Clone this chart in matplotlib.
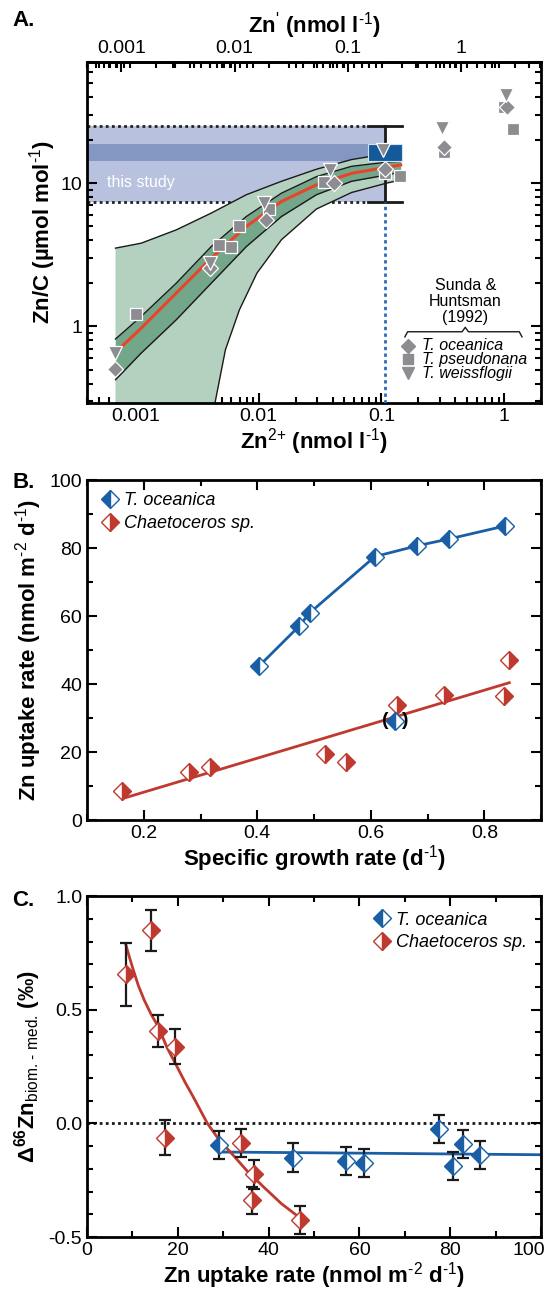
import numpy as np
import matplotlib
matplotlib.use("Agg")
import matplotlib.pyplot as plt
import matplotlib.transforms as mtransforms
from matplotlib.patches import Rectangle
from matplotlib.ticker import FixedLocator, LogLocator, NullFormatter, MultipleLocator

plt.rcParams['font.family'] = ['Liberation Sans', 'DejaVu Sans']
plt.rcParams['mathtext.fontset'] = 'custom'
plt.rcParams['mathtext.rm'] = 'Liberation Sans'
plt.rcParams['mathtext.bf'] = 'Liberation Sans:bold'
plt.rcParams['mathtext.it'] = 'Liberation Sans:italic'

# ---- A: Zn/C vs Zn2+ (Sunda & Huntsman 1992 + this study) ----
sh_ocean_zn = [0.000674, 0.00404, 0.0114, 0.0408, 0.107, 0.323, 1.06]
sh_ocean_znc = [0.504, 2.55, 5.55, 10.0, 12.6, 18.0, 33.9]
sh_pseudo_zn = [0.00101, 0.00473, 0.0059, 0.00687, 0.0121, 0.0343, 0.107, 0.142, 0.323, 1.0, 1.18]
sh_pseudo_znc = [1.22, 3.72, 3.61, 5.04, 6.55, 10.2, 11.7, 11.3, 16.6, 33.9, 23.8]
sh_weiss_zn = [0.000674, 0.00398, 0.011, 0.0384, 0.104, 0.312, 1.03]
sh_weiss_znc = [0.652, 2.77, 7.26, 12.4, 17.1, 24.2, 41.3]

# fit and confidence envelopes
fit_zn = [0.000682, 0.001104, 0.002133, 0.004111, 0.00794, 0.01535, 0.02958, 0.05715, 0.1104, 0.1436]
outer_hi = [3.52, 3.81, 4.72, 6.18, 8.30, 10.3, 12.5, 14.6, 16.0, 16.4]
inner_hi = [0.817, 1.175, 2.005, 3.61, 5.85, 8.51, 11.1, 13.1, 14.0, 14.2]
inner_lo = [0.425, 0.652, 1.114, 2.005, 3.61, 5.85, 8.30, 10.3, 11.4, 11.9]
red_fit_zn = [0.000743, 0.001104, 0.002133, 0.004111, 0.00794, 0.01535, 0.02958, 0.05715, 0.1104, 0.1436]
red_fit_znc = [0.706, 0.973, 1.71, 3.00, 4.99, 7.45, 9.73, 11.7, 12.9, 13.4]
outer_lo_zn = [0.00440, 0.00536, 0.00697, 0.00968, 0.01535, 0.02958, 0.05715, 0.1104, 0.1436]
outer_lo = [0.29, 0.687, 1.306, 2.355, 4.03, 6.60, 8.60, 10.0, 10.5]

study_zn2 = 0.107
study_box_zn = [0.0784, 0.1466]
study_range = [7.33, 24.9]
study_core = [14.3, 18.8]

# ---- B / C: uptake, growth and isotope fractionation ----
growth_to = [0.403, 0.474, 0.492, 0.607, 0.682, 0.738, 0.836]
uptake_to = [45.3, 57.1, 60.9, 77.5, 80.7, 82.7, 86.5]
d66_to = [-0.151, -0.165, -0.174, -0.024, -0.189, -0.092, -0.138]
d66_to_err = [0.064, 0.061, 0.062, 0.062, 0.062, 0.062, 0.062]
growth_to_out = 0.643
uptake_to_out = 29.0
d66_to_out = -0.094
d66_to_out_err = 0.061

growth_ch = [0.162, 0.280, 0.316, 0.520, 0.557, 0.647, 0.729, 0.834, 0.844]
uptake_ch = [8.5, 14.0, 15.6, 19.4, 17.1, 33.9, 36.7, 36.4, 47.0]
d66_ch = [0.655, 0.850, 0.407, 0.337, -0.063, -0.086, -0.224, -0.339, -0.424]
d66_ch_err = [0.14, 0.09, 0.07, 0.077, 0.078, 0.063, 0.063, 0.058, 0.062]

ch_lin_growth = [0.162, 0.844]
ch_lin_uptake = [6.3, 40.4]

ch_curve_uptake = [8.5, 9.3, 10.2, 11.3, 12.6, 14.1, 15.7, 17.6, 19.6, 21.5, 23.4,
                   26.5, 29.0, 31.2, 33.2, 35.1, 38.9, 42.8, 47.1]
ch_curve_d66 = [0.789, 0.733, 0.674, 0.606, 0.542, 0.480, 0.425, 0.334, 0.258, 0.184, 0.116,
                0.0, -0.070, -0.118, -0.163, -0.206, -0.280, -0.353, -0.419]
to_line_uptake = [29.0, 60.0, 100.0]
to_line_d66 = [-0.126, -0.131, -0.138]

GREY = '#8c8c91'
BLUE = '#1a5fa6'
RED = '#c0392f'
TICK_FS = 14
LAB_FS = 16
SUP1 = r'$^{\text{-1}}$'
SUP2 = r'$^{\text{-2}}$'


def style_axes(ax):
    for s in ax.spines.values():
        s.set_linewidth(2)
    ax.tick_params(which='both', direction='in', width=1.5, labelsize=TICK_FS,
                   top=True, right=True)
    ax.tick_params(which='major', length=7)
    ax.tick_params(which='minor', length=4)


fig = plt.figure(figsize=(5.51, 12.99), dpi=100)
axA = fig.add_axes([0.158, 0.690, 0.824, 0.2625])
axB = fig.add_axes([0.158, 0.3687, 0.824, 0.2617])
axC = fig.add_axes([0.158, 0.0477, 0.824, 0.2625])

# ================= A =================
ax = axA
ax.set_xscale('log')
ax.set_yscale('log')
ax.set_xlim(4.0e-4, 2.0)
ax.set_ylim(0.294, 70.3)
x0 = ax.get_xlim()[0]
ybot = ax.get_ylim()[0]

ax.fill_between([x0, study_zn2], study_range[0], study_range[1], color='#b8c2de', lw=0, zorder=1)
ax.fill_between([x0, study_zn2], study_core[0], study_core[1], color='#8397c2', lw=0, zorder=1.1)
for yv in study_range:
    ax.plot([x0, study_box_zn[0]], [yv, yv], ls=(0, (1, 1.2)), color='#222222', lw=2, zorder=1.2)
ax.text(5.83e-4, 10.1, 'this study', color='white', fontsize=11.5, va='center', ha='left', zorder=1.3)

# outer envelope
poly_x = [fit_zn[0]] + fit_zn + outer_lo_zn[::-1]
poly_y = [ybot] + outer_hi + outer_lo[::-1]
ax.fill(poly_x, poly_y, color='#b4d1c0', lw=0, zorder=2)
ax.plot(fit_zn, outer_hi, color='#1a1a1a', lw=1, zorder=2.5)
ax.plot(outer_lo_zn, outer_lo, color='#1a1a1a', lw=1, zorder=2.5)
# inner envelope
ax.fill_between(fit_zn, inner_lo, inner_hi, color='#74a68a', lw=0, zorder=2.2)
ax.plot(fit_zn, inner_hi, color='#1a1a1a', lw=1, zorder=2.5)
ax.plot(fit_zn, inner_lo, color='#1a1a1a', lw=1, zorder=2.5)
ax.plot(red_fit_zn, red_fit_znc, color='#e8442a', lw=2.2, zorder=2.6)

# this study: mean box with range
ax.plot([study_zn2, study_zn2], study_range, color='#1a1a1a', lw=2, zorder=3)
for yv in study_range:
    ax.plot(study_box_zn, [yv, yv], color='#1a1a1a', lw=2, zorder=3)
ax.add_patch(Rectangle((study_box_zn[0], study_core[0]), study_box_zn[1] - study_box_zn[0],
                       study_core[1] - study_core[0], facecolor='#145a9b',
                       edgecolor='#d8e2ef', lw=0.8, zorder=3.1))
ax.plot([study_zn2, study_zn2], [ybot, study_range[0]], ls=(0, (1.2, 1.2)), color='#2a6db5',
        lw=2, zorder=3)

mk = dict(linestyle='none', color=GREY, markeredgecolor='white', markeredgewidth=0.9, zorder=4)
ax.plot(sh_pseudo_zn, sh_pseudo_znc, marker='s', markersize=8, **mk)
ax.plot(sh_ocean_zn, sh_ocean_znc, marker='D', markersize=8, **mk)
ax.plot(sh_weiss_zn, sh_weiss_znc, marker='v', markersize=9.5, **mk)

ax.xaxis.set_major_locator(FixedLocator([0.001, 0.01, 0.1, 1]))
ax.xaxis.set_minor_locator(LogLocator(base=10, subs=np.arange(2, 10)))
ax.xaxis.set_minor_formatter(NullFormatter())
ax.set_xticklabels(['0.001', '0.01', '0.1', '1'])
ax.yaxis.set_major_locator(FixedLocator([1, 10]))
ax.yaxis.set_minor_locator(LogLocator(base=10, subs=np.arange(2, 10)))
ax.yaxis.set_minor_formatter(NullFormatter())
ax.set_yticklabels(['1', '10'])
style_axes(ax)
ax.tick_params(top=False)
ax.set_xlabel(r'Zn$^{\text{2+}}$ (nmol l' + SUP1 + ')', fontsize=LAB_FS, fontweight='bold', labelpad=1)
ax.set_ylabel(r'Zn/C (µmol mol' + SUP1 + ')', fontsize=LAB_FS, fontweight='bold', labelpad=2)

# Zn' scale on top
a_top, b_top = 1.0838, 0.379
sec = ax.secondary_xaxis('top', functions=(lambda x: 10 ** (a_top * np.log10(x) + b_top),
                                           lambda y: 10 ** ((np.log10(y) - b_top) / a_top)))
sec.set_xscale('log')
sec.xaxis.set_major_locator(FixedLocator([0.001, 0.01, 0.1, 1]))
sec.xaxis.set_minor_locator(LogLocator(base=10, subs=np.arange(2, 10)))
sec.xaxis.set_minor_formatter(NullFormatter())
sec.set_xticklabels(['0.001', '0.01', '0.1', '1'])
sec.tick_params(which='both', direction='in', width=1.5, labelsize=TICK_FS)
sec.tick_params(which='major', length=7)
sec.tick_params(which='minor', length=4)
sec.spines['top'].set_linewidth(2)
sec.set_xlabel(r"Zn$^{\text{'}}$ (nmol l" + SUP1 + ')', fontsize=LAB_FS, fontweight='bold', labelpad=5)

# Sunda & Huntsman key
ax.text(0.833, 0.296, 'Sunda &\nHuntsman\n(1992)', transform=ax.transAxes, ha='center',
        va='center', fontsize=11.5, linespacing=1.1)
ax.plot([0.700, 0.706, 0.826, 0.833, 0.840, 0.952, 0.958],
        [0.193, 0.208, 0.208, 0.221, 0.208, 0.208, 0.193], transform=ax.transAxes,
        color='#1a1a1a', lw=1, clip_on=False)
key = [('D', 'T. oceanica', 7), ('s', 'T. pseudonana', 7), ('v', 'T. weissflogii', 8.5)]
for i, (m, name, ms) in enumerate(key):
    yk = 0.167 - i * 0.040
    ax.plot([0.707], [yk], marker=m, markersize=ms, color=GREY, linestyle='none',
            transform=ax.transAxes)
    ax.text(0.738, yk, name, transform=ax.transAxes, fontsize=11.5, style='italic',
            va='center', ha='left')

# ================= B =================
ax = axB
ax.plot(growth_to, uptake_to, color=BLUE, lw=2, zorder=2)
ax.plot(ch_lin_growth, ch_lin_uptake, color=RED, lw=2, zorder=2)
to_mk = dict(marker='D', markersize=9.5, fillstyle='left', markerfacecolor=BLUE,
             markerfacecoloralt='white', markeredgecolor=BLUE, markeredgewidth=1, linestyle='none')
ch_mk = dict(marker='D', markersize=9.5, fillstyle='right', markerfacecolor=RED,
             markerfacecoloralt='white', markeredgecolor=RED, markeredgewidth=1, linestyle='none')
ax.plot(growth_to, uptake_to, zorder=3, label='T. oceanica', **to_mk)
ax.plot(growth_ch, uptake_ch, zorder=3, label='Chaetoceros sp.', **ch_mk)
ax.plot([growth_to_out], [uptake_to_out], zorder=3, **to_mk)
ax.annotate('(', (growth_to_out, uptake_to_out), xytext=(-7.5, 0.5), textcoords='offset points',
            ha='center', va='center', fontsize=14, fontweight='bold')
ax.annotate(')', (growth_to_out, uptake_to_out), xytext=(7.5, 0.5), textcoords='offset points',
            ha='center', va='center', fontsize=14, fontweight='bold')
ax.set_xlim(0.1, 0.9)
ax.set_ylim(0, 100)
ax.xaxis.set_major_locator(FixedLocator([0.2, 0.4, 0.6, 0.8]))
ax.xaxis.set_minor_locator(MultipleLocator(0.1))
ax.yaxis.set_major_locator(MultipleLocator(20))
ax.yaxis.set_minor_locator(MultipleLocator(10))
style_axes(ax)
ax.set_xlabel('Specific growth rate (d' + SUP1 + ')', fontsize=LAB_FS, fontweight='bold', labelpad=1)
ax.set_ylabel('Zn uptake rate (nmol m' + SUP2 + ' d' + SUP1 + ')', fontsize=LAB_FS,
              fontweight='bold', labelpad=4)
leg = ax.legend(loc='upper left', bbox_to_anchor=(0.01, 0.985), frameon=False, fontsize=13,
                handletextpad=0.2, labelspacing=0.3, borderaxespad=0, handlelength=1.2)
for t in leg.get_texts():
    t.set_style('italic')

# ================= C =================
ax = axC
ax.axhline(0, color='#1a1a1a', ls=(0, (1, 1.2)), lw=2, zorder=1)
ax.plot(to_line_uptake, to_line_d66, color=BLUE, lw=2, zorder=2)
ax.plot(ch_curve_uptake, ch_curve_d66, color=RED, lw=2, zorder=2)
eb = dict(fmt='none', ecolor='#1a1a1a', elinewidth=1.6, capsize=4, capthick=1.6, zorder=2.5)
ax.errorbar(uptake_ch, d66_ch, yerr=d66_ch_err, **eb)
ax.errorbar(uptake_to + [uptake_to_out], d66_to + [d66_to_out],
            yerr=d66_to_err + [d66_to_out_err], **eb)
ax.plot(uptake_to + [uptake_to_out], d66_to + [d66_to_out], zorder=3, label='T. oceanica', **to_mk)
ax.plot(uptake_ch, d66_ch, zorder=3, label='Chaetoceros sp.', **ch_mk)
ax.set_xlim(0, 100)
ax.set_ylim(-0.5, 1.0)
ax.set_xticks([0, 20, 40, 60, 80, 100])
ax.xaxis.set_minor_locator(MultipleLocator(10))
ax.set_yticks([-0.5, 0.0, 0.5, 1.0])
ax.set_yticklabels(['-0.5', '0.0', '0.5', '1.0'])
ax.yaxis.set_minor_locator(MultipleLocator(0.1))
style_axes(ax)
# keep the last x label inside the figure
last = ax.get_xticklabels()[-1]
last.set_ha('right')
last.set_transform(last.get_transform() + mtransforms.ScaledTranslation(3 / 72, 0, fig.dpi_scale_trans))
ax.set_xlabel('Zn uptake rate (nmol m' + SUP2 + ' d' + SUP1 + ')', fontsize=LAB_FS,
              fontweight='bold', labelpad=1)
ax.set_ylabel(r'$\mathbf{\Delta^{66}Zn}_{\text{biom. - med.}}$ (‰)', fontsize=LAB_FS,
              fontweight='bold', labelpad=4)
leg = ax.legend(loc='upper right', bbox_to_anchor=(0.985, 0.975), frameon=False, fontsize=13,
                handletextpad=0.2, labelspacing=0.3, borderaxespad=0, handlelength=1.2)
for t in leg.get_texts():
    t.set_style('italic')

# panel letters
fig.text(12 / 551, 1 - 20 / 1299, 'A.', fontsize=16, fontweight='bold', va='center')
fig.text(12 / 551, 1 - 482 / 1299, 'B.', fontsize=16, fontweight='bold', va='center')
fig.text(12 / 551, 1 - 900 / 1299, 'C.', fontsize=16, fontweight='bold', va='center')

fig.savefig('out.png', dpi=100)
